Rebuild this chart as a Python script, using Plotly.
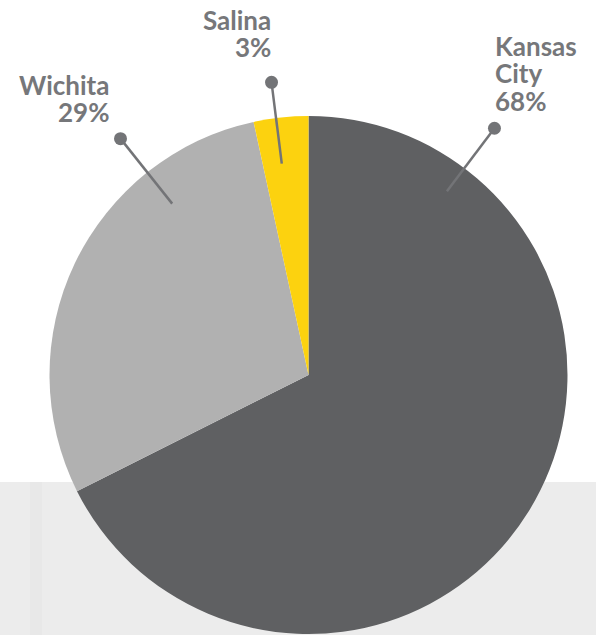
import math
import plotly.graph_objects as go

# ---- data ----
cities = ["Kansas City", "Wichita", "Salina"]
shares = [67.6, 29.0, 3.4]
colors = ["#5f6062", "#b1b1b1", "#fcd20f"]

# ---- style / layout constants ----
W, H = 596, 635
CX, CY, R = 308.5, 375.0, 259.0          # pie centre / radius in px
leader_angle = [37.0, 321.5, 352.8]      # degrees clockwise from 12 o'clock
leader_r_in = [230, 219, 213]
leader_r_out = [309, 302, 295]
label_anchor = ["left", "right", "right"]
label_dx = [-1, -10, 1]                  # text edge offset from dot (px)
label_first_baseline = [56, 95, 30]
LINE_GAP = 27.3
FONT = 26
TEXT_COLOR = "#76777a"
LEAD_COLOR = "#737477"


def px(x):
    return x / W


def py(y):
    return 1 - y / H


fig = go.Figure()

fig.add_trace(go.Pie(
    labels=cities,
    values=shares,
    marker=dict(colors=colors, line=dict(width=0)),
    sort=False,
    direction="clockwise",
    rotation=0,
    textinfo="none",
    hoverinfo="label+percent",
    showlegend=False,
    domain=dict(x=[px(CX - R), px(CX + R)], y=[py(CY + R), py(CY - R)]),
))

shapes = [
    dict(type="rect", xref="paper", yref="paper", x0=0, x1=1, y0=0, y1=py(482),
         fillcolor="#ececec", line=dict(width=0), layer="below"),
    dict(type="rect", xref="paper", yref="paper", x0=px(30), x1=px(42), y0=0, y1=py(482),
         fillcolor="#e4e4e4", line=dict(width=0), layer="below", opacity=0.5),
]
annotations = []

for i, city in enumerate(cities):
    a = math.radians(leader_angle[i])
    x_in = CX + leader_r_in[i] * math.sin(a)
    y_in = CY - leader_r_in[i] * math.cos(a)
    x_out = CX + leader_r_out[i] * math.sin(a)
    y_out = CY - leader_r_out[i] * math.cos(a)
    shapes.append(dict(type="line", xref="paper", yref="paper",
                       x0=px(x_in), y0=py(y_in), x1=px(x_out), y1=py(y_out),
                       line=dict(color=LEAD_COLOR, width=2.5), layer="above"))
    rd = 6.5
    shapes.append(dict(type="circle", xref="paper", yref="paper",
                       x0=px(x_out - rd), x1=px(x_out + rd),
                       y0=py(y_out + rd), y1=py(y_out - rd),
                       fillcolor=LEAD_COLOR, line=dict(width=0), layer="above"))
    pct = round(shares[i] / sum(shares) * 100)
    lines = city.split(" ") + [f"{pct}%"]
    tx = x_out + label_dx[i]
    for j, t in enumerate(lines):
        base = label_first_baseline[i] + j * LINE_GAP
        annotations.append(dict(
            text=t, xref="paper", yref="paper",
            x=px(tx), y=py(base - 0.387 * FONT),
            xanchor=label_anchor[i], yanchor="middle", align=label_anchor[i],
            showarrow=False,
            font=dict(family="Lato", size=FONT, color=TEXT_COLOR, weight=700),
        ))

fig.update_layout(
    width=W, height=H,
    margin=dict(l=0, r=0, t=0, b=0),
    paper_bgcolor="white",
    plot_bgcolor="white",
    shapes=shapes,
    annotations=annotations,
)

fig.write_html(
    "out.html",
    config={"displayModeBar": False},
    post_script="document.body.style.margin='0';document.body.style.overflow='hidden';",
)
